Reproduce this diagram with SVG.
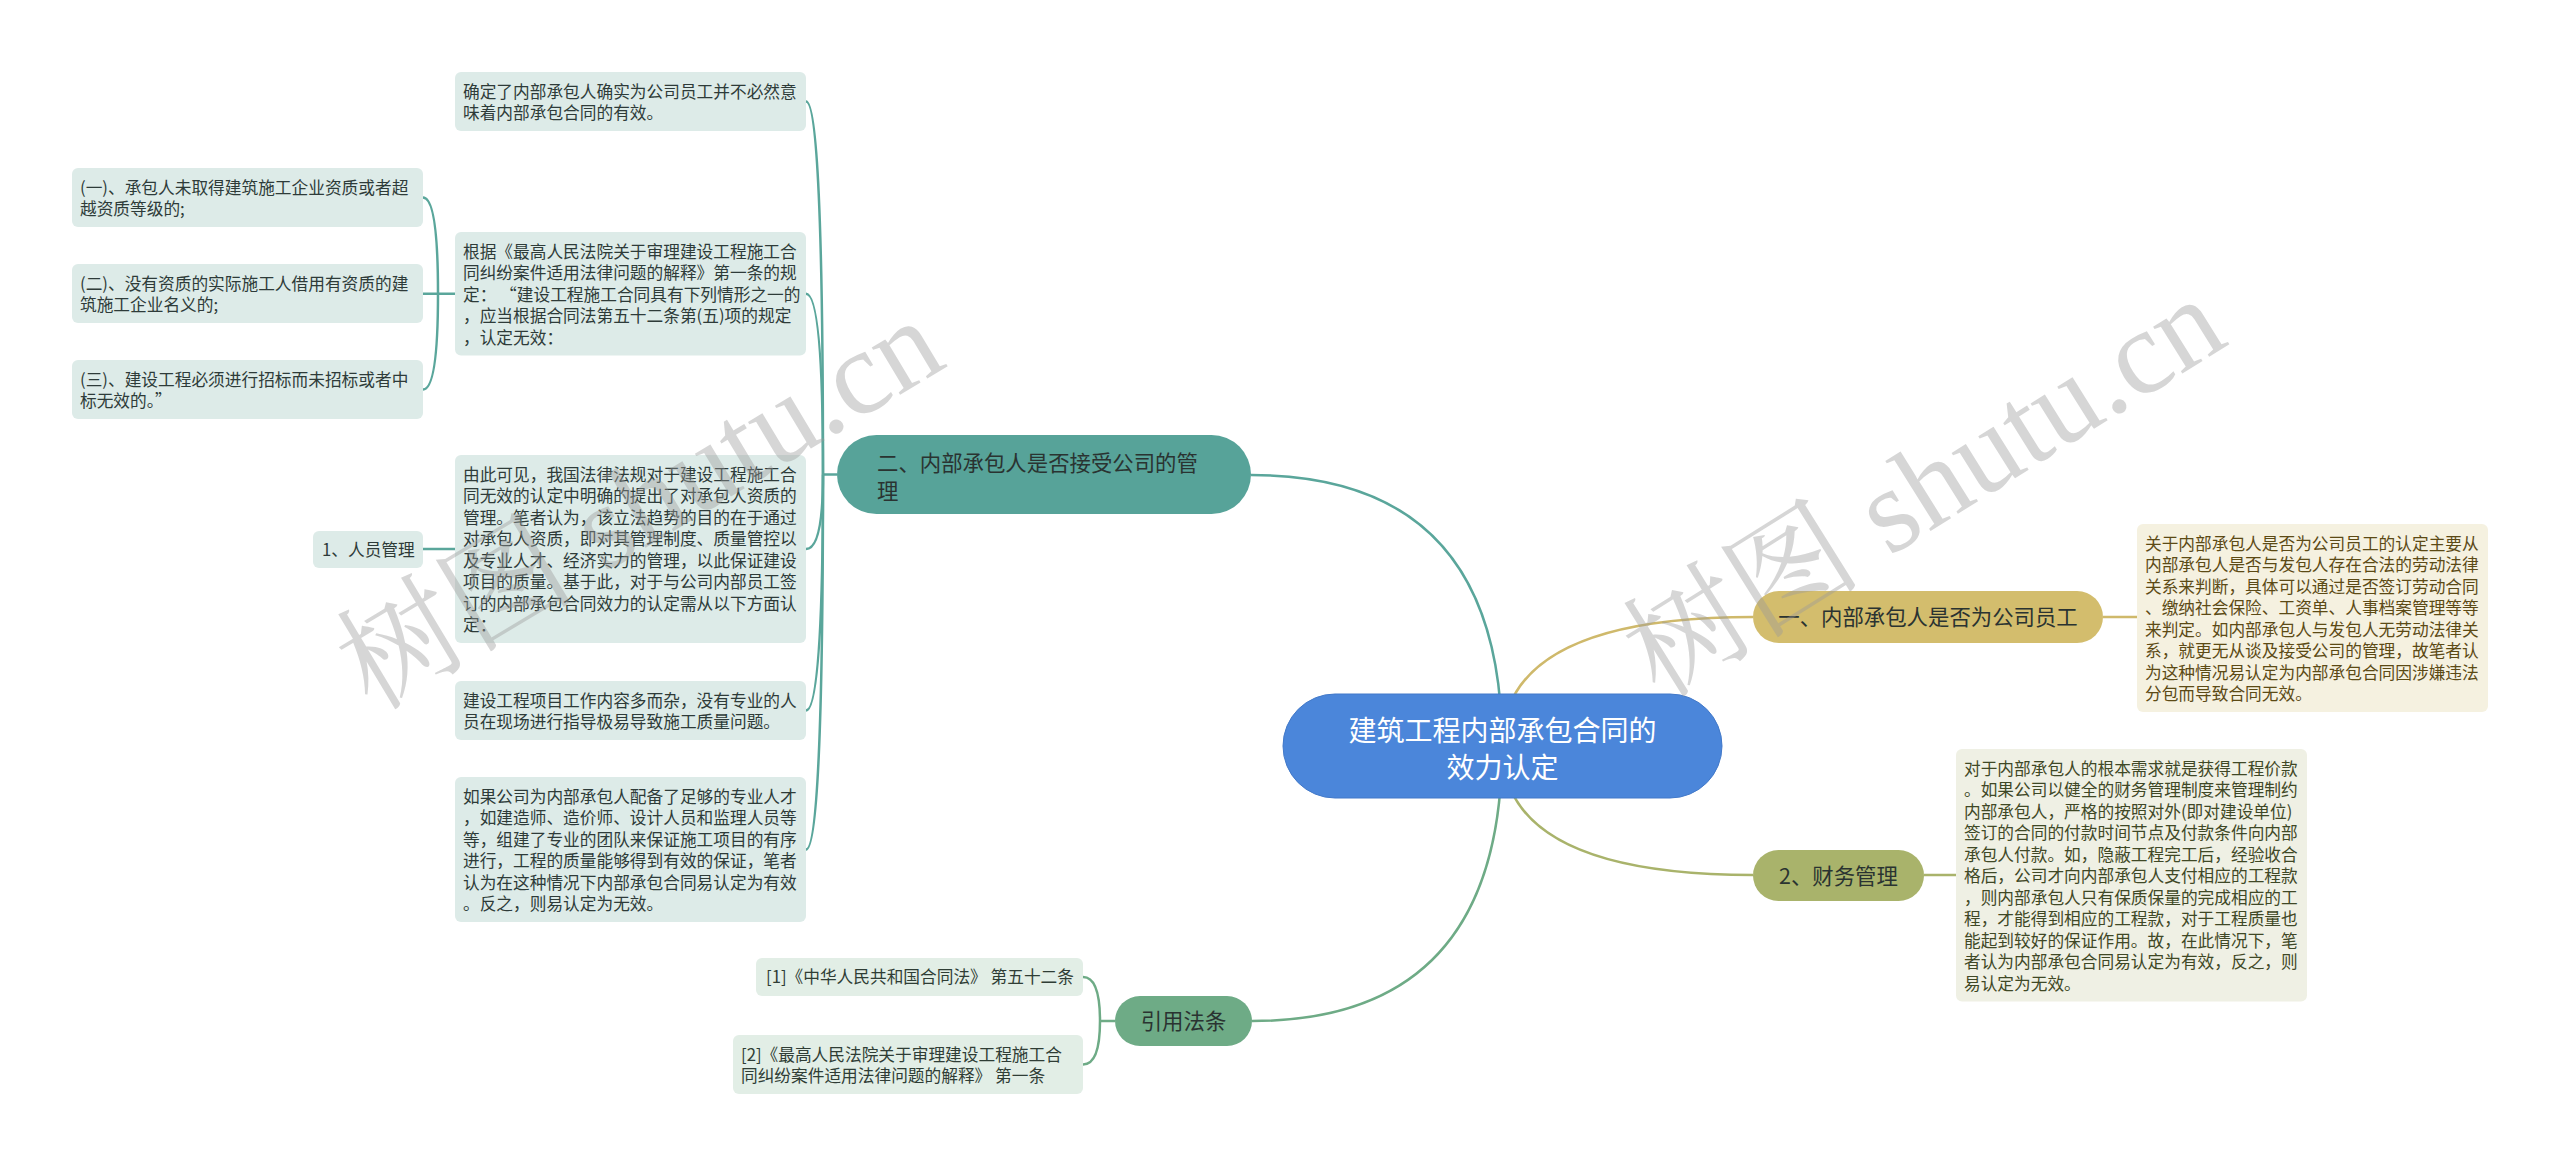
<svg xmlns="http://www.w3.org/2000/svg" width="2560" height="1163" viewBox="0 0 2560 1163">
<style>
text{font-family:"Noto Sans CJK SC","Noto Sans",sans-serif;}
.t{font-size:16.7px;}
.tl{fill:#2e3b39;}
.tr1{fill:#5c4a15;}
.tr2{fill:#3f4826;}
.tref{fill:#2f3d35;}
.b{font-size:21.4px;fill:#2a3331;}
.boxL{fill:#ddebe8;}
.boxR{fill:#e2eee6;}
.c{fill:none;stroke-width:2.5;}
.teal{stroke:#5aa69b;}
.green{stroke:#6eab86;}
.gold{stroke:#cfb96b;}
.olive{stroke:#a9b36b;}
.wm{font-family:"Liberation Serif","Noto Serif CJK SC","Noto Sans CJK SC",serif;font-size:120px;fill:#9a9a9a;opacity:0.4;}
</style>
<rect width="2560" height="1163" fill="#ffffff"/>
<g id="connectors">
<path class="c teal" d="M1502 746 Q1502 475 1251 475"/>
<path class="c green" d="M1502 746 Q1502 1021 1252 1021"/>
<path class="c gold" d="M1502 746 Q1502 617 1753 617"/>
<path class="c olive" d="M1502 746 Q1502 875 1753 875"/>
<path class="c gold" d="M2103 617 L2137 617"/>
<path class="c olive" d="M1924 875 L1956 875"/>
<path class="c teal" d="M837 474.5 L823 474.5"/>
<path class="c teal" d="M823 474.5 Q823 101.5 806 101.5"/>
<path class="c teal" d="M823 474.5 Q823 293.75 806 293.75"/>
<path class="c teal" d="M823 474.5 Q823 549 806 549"/>
<path class="c teal" d="M823 474.5 Q823 710.5 806 710.5"/>
<path class="c teal" d="M823 474.5 Q823 849.5 806 849.5"/>
<path class="c teal" d="M455 293.75 L438 293.75"/>
<path class="c teal" d="M438 293.75 Q438 197.5 423 197.5"/>
<path class="c teal" d="M438 293.75 L423 293.75"/>
<path class="c teal" d="M438 293.75 Q438 389.5 423 389.5"/>
<path class="c teal" d="M455 549 L423 549"/>
<path class="c green" d="M1115 1021 L1100 1021"/>
<path class="c green" d="M1100 1021 Q1100 977 1083 977"/>
<path class="c green" d="M1100 1021 Q1100 1064.5 1083 1064.5"/>
</g>
<g id="root">
<rect x="1283" y="694" width="439" height="104" rx="52" fill="#4b86da" stroke="#4279c9" stroke-width="1"/>
<text x="1502.5" y="740.5" font-size="28" fill="#ffffff" text-anchor="middle">建筑工程内部承包合同的</text>
<text x="1502.5" y="777.5" font-size="28" fill="#ffffff" text-anchor="middle">效力认定</text>
</g>
<g id="branch-management">
<rect x="837" y="435" width="414" height="79" rx="39.5" fill="#57a399"/>
<text class="b" x="877" y="471">二、内部承包人是否接受公司的管</text>
<text class="b" x="877" y="499">理</text>
</g>
<g id="leaf-l1">
<rect class="boxL" x="455" y="72" width="351" height="59" rx="6"/>
<text class="t tl" x="463" y="97.5">确定了内部承包人确实为公司员工并不必然意</text>
<text class="t tl" x="463" y="119">味着内部承包合同的有效。</text>
</g>
<g id="leaf-l2">
<rect class="boxL" x="455" y="232" width="351" height="123.5" rx="6"/>
<text class="t tl" x="463" y="257.5">根据《最高人民法院关于审理建设工程施工合</text>
<text class="t tl" x="463" y="279">同纠纷案件适用法律问题的解释》第一条的规</text>
<text class="t tl" x="463" y="300.5">定： “建设工程施工合同具有下列情形之一的</text>
<text class="t tl" x="463" y="322">，应当根据合同法第五十二条第(五)项的规定</text>
<text class="t tl" x="463" y="343.5">，认定无效：</text>
</g>
<g id="sub-s1">
<rect class="boxL" x="72" y="168" width="351" height="59" rx="6"/>
<text class="t tl" x="80" y="193.5">(一)、承包人未取得建筑施工企业资质或者超</text>
<text class="t tl" x="80" y="215">越资质等级的;</text>
</g>
<g id="sub-s2">
<rect class="boxL" x="72" y="264" width="351" height="59" rx="6"/>
<text class="t tl" x="80" y="289.5">(二)、没有资质的实际施工人借用有资质的建</text>
<text class="t tl" x="80" y="311">筑施工企业名义的;</text>
</g>
<g id="sub-s3">
<rect class="boxL" x="72" y="360" width="351" height="59" rx="6"/>
<text class="t tl" x="80" y="385.5">(三)、建设工程必须进行招标而未招标或者中</text>
<text class="t tl" x="80" y="407">标无效的。”</text>
</g>
<g id="leaf-l3">
<rect class="boxL" x="455" y="455" width="351" height="188" rx="6"/>
<text class="t tl" x="463" y="480.5">由此可见，我国法律法规对于建设工程施工合</text>
<text class="t tl" x="463" y="502">同无效的认定中明确的提出了对承包人资质的</text>
<text class="t tl" x="463" y="523.5">管理。笔者认为，该立法趋势的目的在于通过</text>
<text class="t tl" x="463" y="545">对承包人资质，即对其管理制度、质量管控以</text>
<text class="t tl" x="463" y="566.5">及专业人才、经济实力的管理，以此保证建设</text>
<text class="t tl" x="463" y="588">项目的质量。基于此，对于与公司内部员工签</text>
<text class="t tl" x="463" y="609.5">订的内部承包合同效力的认定需从以下方面认</text>
<text class="t tl" x="463" y="631">定：</text>
</g>
<g id="node-personnel">
<rect class="boxL" x="313" y="531" width="110" height="37" rx="6"/>
<text class="t tl" x="322" y="555.5">1、人员管理</text>
</g>
<g id="leaf-l4">
<rect class="boxL" x="455" y="681" width="351" height="59" rx="6"/>
<text class="t tl" x="463" y="706.5">建设工程项目工作内容多而杂，没有专业的人</text>
<text class="t tl" x="463" y="728">员在现场进行指导极易导致施工质量问题。</text>
</g>
<g id="leaf-l5">
<rect class="boxL" x="455" y="777" width="351" height="145" rx="6"/>
<text class="t tl" x="463" y="802.5">如果公司为内部承包人配备了足够的专业人才</text>
<text class="t tl" x="463" y="824">，如建造师、造价师、设计人员和监理人员等</text>
<text class="t tl" x="463" y="845.5">等，组建了专业的团队来保证施工项目的有序</text>
<text class="t tl" x="463" y="867">进行，工程的质量能够得到有效的保证，笔者</text>
<text class="t tl" x="463" y="888.5">认为在这种情况下内部承包合同易认定为有效</text>
<text class="t tl" x="463" y="910">。反之，则易认定为无效。</text>
</g>
<g id="branch-laws">
<rect x="1115" y="996" width="137" height="50" rx="25" fill="#6eab86"/>
<text class="b" x="1183.5" y="1029" text-anchor="middle">引用法条</text>
</g>
<g id="ref-1">
<rect class="boxR" x="756" y="958" width="327" height="38" rx="6"/>
<text class="t tref" x="766" y="983">[1]《中华人民共和国合同法》 第五十二条</text>
</g>
<g id="ref-2">
<rect class="boxR" x="733" y="1035" width="350" height="59" rx="6"/>
<text class="t tref" x="741" y="1060.5">[2]《最高人民法院关于审理建设工程施工合</text>
<text class="t tref" x="741" y="1082">同纠纷案件适用法律问题的解释》 第一条</text>
</g>
<g id="branch-employee">
<rect x="1753" y="591" width="350" height="52" rx="26" fill="#d3bd6d"/>
<text class="b" x="1928" y="625" text-anchor="middle">一、内部承包人是否为公司员工</text>
</g>
<g id="leaf-r1">
<rect x="2137" y="524" width="351" height="188" rx="6" fill="#f5f1e0"/>
<text class="t tr1" x="2145" y="549.5">关于内部承包人是否为公司员工的认定主要从</text>
<text class="t tr1" x="2145" y="571">内部承包人是否与发包人存在合法的劳动法律</text>
<text class="t tr1" x="2145" y="592.5">关系来判断，具体可以通过是否签订劳动合同</text>
<text class="t tr1" x="2145" y="614">、缴纳社会保险、工资单、人事档案管理等等</text>
<text class="t tr1" x="2145" y="635.5">来判定。如内部承包人与发包人无劳动法律关</text>
<text class="t tr1" x="2145" y="657">系，就更无从谈及接受公司的管理，故笔者认</text>
<text class="t tr1" x="2145" y="678.5">为这种情况易认定为内部承包合同因涉嫌违法</text>
<text class="t tr1" x="2145" y="700">分包而导致合同无效。</text>
</g>
<g id="branch-finance">
<rect x="1753" y="850" width="171" height="51" rx="25.5" fill="#a9b36b"/>
<text class="b" x="1838.5" y="883.5" text-anchor="middle">2、财务管理</text>
</g>
<g id="leaf-r2">
<rect x="1956" y="749" width="351" height="252.5" rx="6" fill="#eff0e4"/>
<text class="t tr2" x="1964" y="774.5">对于内部承包人的根本需求就是获得工程价款</text>
<text class="t tr2" x="1964" y="796">。如果公司以健全的财务管理制度来管理制约</text>
<text class="t tr2" x="1964" y="817.5">内部承包人，严格的按照对外(即对建设单位)</text>
<text class="t tr2" x="1964" y="839">签订的合同的付款时间节点及付款条件向内部</text>
<text class="t tr2" x="1964" y="860.5">承包人付款。如，隐蔽工程完工后，经验收合</text>
<text class="t tr2" x="1964" y="882">格后，公司才向内部承包人支付相应的工程款</text>
<text class="t tr2" x="1964" y="903.5">，则内部承包人只有保质保量的完成相应的工</text>
<text class="t tr2" x="1964" y="925">程，才能得到相应的工程款，对于工程质量也</text>
<text class="t tr2" x="1964" y="946.5">能起到较好的保证作用。故，在此情况下，笔</text>
<text class="t tr2" x="1964" y="968">者认为内部承包合同易认定为有效，反之，则</text>
<text class="t tr2" x="1964" y="989.5">易认定为无效。</text>
</g>
<g id="watermarks">
<text class="wm" x="372" y="712" transform="rotate(-31 372 712)">树图 shutu.cn</text>
<text class="wm" x="1660" y="700" transform="rotate(-32 1660 700)">树图 shutu.cn</text>
</g>
</svg>
